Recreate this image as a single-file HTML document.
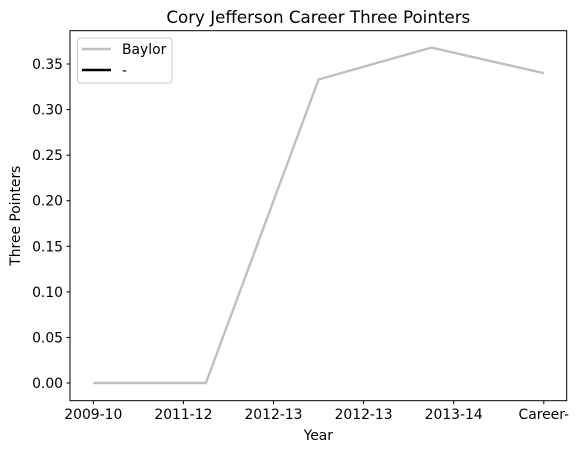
<!DOCTYPE html>
<html><head><meta charset="utf-8"><style>
body{margin:0;background:#fff;}
svg text{font-family:"DejaVu Sans","Liberation Sans",sans-serif;}
</style></head><body>
<svg id="chart" width="579" height="453" xmlns="http://www.w3.org/2000/svg">
<rect x="0" y="0" width="579" height="453" fill="#fff"/>
<text x="318.3" y="23" font-size="16.7" text-anchor="middle" fill="#000">Cory Jefferson Career Three Pointers</text>
<g id="yticks"></g><g id="xticks"></g>
<polyline id="series" fill="none" stroke="#bfbfbf" stroke-width="2.4" stroke-linejoin="round"/>
<rect x="70" y="30.7" width="496.7" height="370" fill="none" stroke="#000" stroke-width="1"/>
<text x="318.3" y="440" font-size="13.9" text-anchor="middle">Year</text>
<text transform="translate(20,215.7) rotate(-90)" font-size="13.9" text-anchor="middle">Three Pointers</text>
<g>
<rect x="77.5" y="38" width="94.5" height="45" rx="3" fill="#fff" stroke="#ccc" stroke-width="1"/>
<line x1="82" y1="49" x2="111" y2="49" stroke="#bfbfbf" stroke-width="2.4"/>
<text x="122" y="54" font-size="13.9">Baylor</text>
<line x1="82" y1="70" x2="111" y2="70" stroke="#000" stroke-width="2.4"/>
<text x="122" y="75" font-size="13.9">-</text>
</g>
</svg>
<script>
const categories = ["2009-10","2011-12","2012-13","2012-13","2013-14","Career-"];
const values = [0, 0, 0.333, 0.368, 0.34];
const yTickValues = [0,0.05,0.10,0.15,0.20,0.25,0.30,0.35];
const yTickLabels = ["0.00","0.05","0.10","0.15","0.20","0.25","0.30","0.35"];
const NS="http://www.w3.org/2000/svg";
function xScale(i){return 93.3 + i*90.1;}
function yScale(v){return 383 - v*911.4;}
const yt=document.getElementById('yticks');
yTickValues.forEach((v,k)=>{
  const y=yScale(v);
  const l=document.createElementNS(NS,'line');
  
  
  l.setAttribute('x1',66.5);l.setAttribute('x2',70);l.setAttribute('y1',y);l.setAttribute('y2',y);l.setAttribute('stroke','#000');
  yt.appendChild(l);
  const t=document.createElementNS(NS,'text');
  
  
  t.setAttribute('x',63);t.setAttribute('y',y+5);t.setAttribute('font-size','13.9');t.setAttribute('text-anchor','end');
  t.textContent=yTickLabels[k];yt.appendChild(t);
});
const xt=document.getElementById('xticks');
categories.forEach((c,i)=>{
  const x=xScale(i);
  const l=document.createElementNS(NS,'line');
  
  
  l.setAttribute('x1',x);l.setAttribute('x2',x);l.setAttribute('y1',400.7);l.setAttribute('y2',404.2);l.setAttribute('stroke','#000');
  xt.appendChild(l);
  const t=document.createElementNS(NS,'text');
  
  
  t.setAttribute('x',x);t.setAttribute('y',419);t.setAttribute('font-size','13.9');t.setAttribute('text-anchor','middle');
  t.textContent=c;xt.appendChild(t);
});
const n=values.length, span=categories.length-1;
const pts=values.map((v,i)=>xScale(i*span/(n-1))+','+yScale(v)).join(' ');
document.getElementById('series').setAttribute('points',pts);
</script>
</body></html>
